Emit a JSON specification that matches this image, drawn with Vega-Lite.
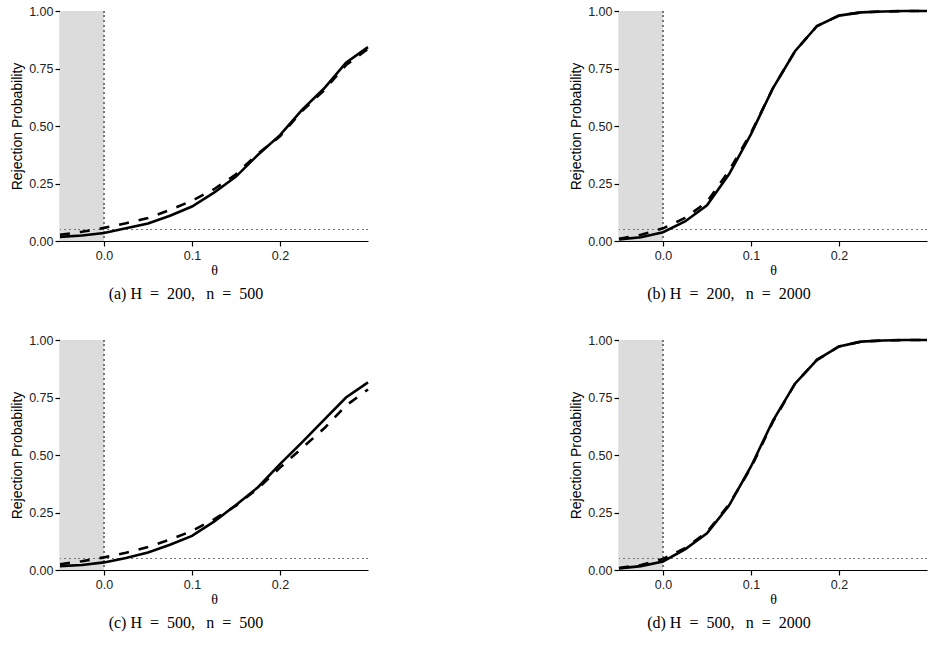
{
  "$schema": "https://vega.github.io/schema/vega-lite/v6.json",
  "padding": {"left": 10, "top": 5, "right": 5, "bottom": 5},
  "background": "white",
  "datasets": {
    "curves": [
      {"p":"a","s":"solid","theta":-0.05,"prob":0.018},{"p":"a","s":"solid","theta":-0.025,"prob":0.024},{"p":"a","s":"solid","theta":0,"prob":0.035},{"p":"a","s":"solid","theta":0.025,"prob":0.055},{"p":"a","s":"solid","theta":0.05,"prob":0.076},{"p":"a","s":"solid","theta":0.075,"prob":0.11},{"p":"a","s":"solid","theta":0.1,"prob":0.15},{"p":"a","s":"solid","theta":0.125,"prob":0.21},{"p":"a","s":"solid","theta":0.15,"prob":0.28},{"p":"a","s":"solid","theta":0.175,"prob":0.375},{"p":"a","s":"solid","theta":0.2,"prob":0.46},{"p":"a","s":"solid","theta":0.225,"prob":0.57},{"p":"a","s":"solid","theta":0.25,"prob":0.663},{"p":"a","s":"solid","theta":0.275,"prob":0.775},{"p":"a","s":"solid","theta":0.3,"prob":0.843},
      {"p":"a","s":"dashed","theta":-0.05,"prob":0.027},{"p":"a","s":"dashed","theta":-0.025,"prob":0.04},{"p":"a","s":"dashed","theta":0,"prob":0.057},{"p":"a","s":"dashed","theta":0.025,"prob":0.077},{"p":"a","s":"dashed","theta":0.05,"prob":0.1},{"p":"a","s":"dashed","theta":0.075,"prob":0.135},{"p":"a","s":"dashed","theta":0.1,"prob":0.175},{"p":"a","s":"dashed","theta":0.125,"prob":0.225},{"p":"a","s":"dashed","theta":0.15,"prob":0.29},{"p":"a","s":"dashed","theta":0.175,"prob":0.38},{"p":"a","s":"dashed","theta":0.2,"prob":0.455},{"p":"a","s":"dashed","theta":0.225,"prob":0.565},{"p":"a","s":"dashed","theta":0.25,"prob":0.655},{"p":"a","s":"dashed","theta":0.275,"prob":0.765},{"p":"a","s":"dashed","theta":0.3,"prob":0.835},
      {"p":"b","s":"solid","theta":-0.05,"prob":0.007},{"p":"b","s":"solid","theta":-0.025,"prob":0.016},{"p":"b","s":"solid","theta":0,"prob":0.038},{"p":"b","s":"solid","theta":0.025,"prob":0.085},{"p":"b","s":"solid","theta":0.05,"prob":0.155},{"p":"b","s":"solid","theta":0.075,"prob":0.29},{"p":"b","s":"solid","theta":0.1,"prob":0.465},{"p":"b","s":"solid","theta":0.125,"prob":0.665},{"p":"b","s":"solid","theta":0.15,"prob":0.825},{"p":"b","s":"solid","theta":0.175,"prob":0.935},{"p":"b","s":"solid","theta":0.2,"prob":0.98},{"p":"b","s":"solid","theta":0.225,"prob":0.994},{"p":"b","s":"solid","theta":0.25,"prob":0.998},{"p":"b","s":"solid","theta":0.275,"prob":1.0},{"p":"b","s":"solid","theta":0.3,"prob":1.0},
      {"p":"b","s":"dashed","theta":-0.05,"prob":0.01},{"p":"b","s":"dashed","theta":-0.025,"prob":0.027},{"p":"b","s":"dashed","theta":0,"prob":0.055},{"p":"b","s":"dashed","theta":0.025,"prob":0.1},{"p":"b","s":"dashed","theta":0.05,"prob":0.17},{"p":"b","s":"dashed","theta":0.075,"prob":0.305},{"p":"b","s":"dashed","theta":0.1,"prob":0.47},{"p":"b","s":"dashed","theta":0.125,"prob":0.665},{"p":"b","s":"dashed","theta":0.15,"prob":0.825},{"p":"b","s":"dashed","theta":0.175,"prob":0.935},{"p":"b","s":"dashed","theta":0.2,"prob":0.98},{"p":"b","s":"dashed","theta":0.225,"prob":0.994},{"p":"b","s":"dashed","theta":0.25,"prob":0.998},{"p":"b","s":"dashed","theta":0.275,"prob":1.0},{"p":"b","s":"dashed","theta":0.3,"prob":1.0},
      {"p":"c","s":"solid","theta":-0.05,"prob":0.017},{"p":"c","s":"solid","theta":-0.025,"prob":0.022},{"p":"c","s":"solid","theta":0,"prob":0.033},{"p":"c","s":"solid","theta":0.025,"prob":0.052},{"p":"c","s":"solid","theta":0.05,"prob":0.076},{"p":"c","s":"solid","theta":0.075,"prob":0.11},{"p":"c","s":"solid","theta":0.1,"prob":0.148},{"p":"c","s":"solid","theta":0.125,"prob":0.21},{"p":"c","s":"solid","theta":0.15,"prob":0.283},{"p":"c","s":"solid","theta":0.175,"prob":0.36},{"p":"c","s":"solid","theta":0.2,"prob":0.46},{"p":"c","s":"solid","theta":0.225,"prob":0.555},{"p":"c","s":"solid","theta":0.25,"prob":0.653},{"p":"c","s":"solid","theta":0.275,"prob":0.75},{"p":"c","s":"solid","theta":0.3,"prob":0.816},
      {"p":"c","s":"dashed","theta":-0.05,"prob":0.025},{"p":"c","s":"dashed","theta":-0.025,"prob":0.038},{"p":"c","s":"dashed","theta":0,"prob":0.055},{"p":"c","s":"dashed","theta":0.025,"prob":0.075},{"p":"c","s":"dashed","theta":0.05,"prob":0.1},{"p":"c","s":"dashed","theta":0.075,"prob":0.132},{"p":"c","s":"dashed","theta":0.1,"prob":0.17},{"p":"c","s":"dashed","theta":0.125,"prob":0.22},{"p":"c","s":"dashed","theta":0.15,"prob":0.28},{"p":"c","s":"dashed","theta":0.175,"prob":0.355},{"p":"c","s":"dashed","theta":0.2,"prob":0.445},{"p":"c","s":"dashed","theta":0.225,"prob":0.53},{"p":"c","s":"dashed","theta":0.25,"prob":0.615},{"p":"c","s":"dashed","theta":0.275,"prob":0.715},{"p":"c","s":"dashed","theta":0.3,"prob":0.785},
      {"p":"d","s":"solid","theta":-0.05,"prob":0.007},{"p":"d","s":"solid","theta":-0.025,"prob":0.017},{"p":"d","s":"solid","theta":0,"prob":0.037},{"p":"d","s":"solid","theta":0.025,"prob":0.09},{"p":"d","s":"solid","theta":0.05,"prob":0.16},{"p":"d","s":"solid","theta":0.075,"prob":0.28},{"p":"d","s":"solid","theta":0.1,"prob":0.45},{"p":"d","s":"solid","theta":0.125,"prob":0.65},{"p":"d","s":"solid","theta":0.15,"prob":0.81},{"p":"d","s":"solid","theta":0.175,"prob":0.914},{"p":"d","s":"solid","theta":0.2,"prob":0.972},{"p":"d","s":"solid","theta":0.225,"prob":0.993},{"p":"d","s":"solid","theta":0.25,"prob":0.998},{"p":"d","s":"solid","theta":0.275,"prob":1.0},{"p":"d","s":"solid","theta":0.3,"prob":1.0},
      {"p":"d","s":"dashed","theta":-0.05,"prob":0.009},{"p":"d","s":"dashed","theta":-0.025,"prob":0.022},{"p":"d","s":"dashed","theta":0,"prob":0.048},{"p":"d","s":"dashed","theta":0.025,"prob":0.095},{"p":"d","s":"dashed","theta":0.05,"prob":0.165},{"p":"d","s":"dashed","theta":0.075,"prob":0.285},{"p":"d","s":"dashed","theta":0.1,"prob":0.445},{"p":"d","s":"dashed","theta":0.125,"prob":0.645},{"p":"d","s":"dashed","theta":0.15,"prob":0.81},{"p":"d","s":"dashed","theta":0.175,"prob":0.914},{"p":"d","s":"dashed","theta":0.2,"prob":0.972},{"p":"d","s":"dashed","theta":0.225,"prob":0.993},{"p":"d","s":"dashed","theta":0.25,"prob":0.998},{"p":"d","s":"dashed","theta":0.275,"prob":1.0},{"p":"d","s":"dashed","theta":0.3,"prob":1.0}
    ]
  },
  "vconcat": [
    {
      "hconcat": [
        {
          "width": 308, "height": 230,
          "title": {"text": "(a) H\u2002=\u2002200,\u2002\u2009n\u2002=\u2002500", "dx": -6},
          "data": {"name": "curves"},
          "transform": [{"filter": "datum.p === 'a'"}],
          "layer": [
            {"mark": {"type": "rect", "fill": "#dcdcdc"}, "encoding": {"x": {"datum": -0.05, "type": "quantitative", "scale": {"domain": [-0.05, 0.3], "nice": false, "zero": false}, "axis": {"title": "θ", "values": [0, 0.1, 0.2], "format": ".1f"}}, "x2": {"datum": 0}, "y": {"datum": 0, "type": "quantitative", "scale": {"domain": [0, 1], "nice": false}, "axis": {"title": "Rejection Probability", "values": [0, 0.25, 0.5, 0.75, 1], "format": ".2f"}}, "y2": {"datum": 1}}},
            {"mark": {"type": "rule", "color": "#777", "strokeDash": [1.2, 3.6], "strokeWidth": 1}, "encoding": {"x": {"datum": 0, "type": "quantitative"}}},
            {"mark": {"type": "rule", "color": "#777", "strokeDash": [1.2, 3.6], "strokeWidth": 1}, "encoding": {"y": {"datum": 0.05, "type": "quantitative"}}},
            {"transform": [{"filter": "datum.s === 'dashed'"}], "mark": {"type": "line", "color": "black", "strokeWidth": 2.6, "strokeDash": [10, 10]}, "encoding": {"x": {"field": "theta", "type": "quantitative"}, "y": {"field": "prob", "type": "quantitative"}}},
            {"transform": [{"filter": "datum.s === 'solid'"}], "mark": {"type": "line", "color": "black", "strokeWidth": 2.6}, "encoding": {"x": {"field": "theta", "type": "quantitative"}, "y": {"field": "prob", "type": "quantitative"}}}
          ]
        },
        {
          "width": 308, "height": 230,
          "title": {"text": "(b) H\u2002=\u2002200,\u2002\u2009n\u2002=\u20022000", "dx": -22},
          "data": {"name": "curves"},
          "transform": [{"filter": "datum.p === 'b'"}],
          "layer": [
            {"mark": {"type": "rect", "fill": "#dcdcdc"}, "encoding": {"x": {"datum": -0.05, "type": "quantitative", "scale": {"domain": [-0.05, 0.3], "nice": false, "zero": false}, "axis": {"title": "θ", "values": [0, 0.1, 0.2], "format": ".1f"}}, "x2": {"datum": 0}, "y": {"datum": 0, "type": "quantitative", "scale": {"domain": [0, 1], "nice": false}, "axis": {"title": "Rejection Probability", "values": [0, 0.25, 0.5, 0.75, 1], "format": ".2f"}}, "y2": {"datum": 1}}},
            {"mark": {"type": "rule", "color": "#777", "strokeDash": [1.2, 3.6], "strokeWidth": 1}, "encoding": {"x": {"datum": 0, "type": "quantitative"}}},
            {"mark": {"type": "rule", "color": "#777", "strokeDash": [1.2, 3.6], "strokeWidth": 1}, "encoding": {"y": {"datum": 0.05, "type": "quantitative"}}},
            {"transform": [{"filter": "datum.s === 'dashed'"}], "mark": {"type": "line", "color": "black", "strokeWidth": 2.6, "strokeDash": [10, 10]}, "encoding": {"x": {"field": "theta", "type": "quantitative"}, "y": {"field": "prob", "type": "quantitative"}}},
            {"transform": [{"filter": "datum.s === 'solid'"}], "mark": {"type": "line", "color": "black", "strokeWidth": 2.6}, "encoding": {"x": {"field": "theta", "type": "quantitative"}, "y": {"field": "prob", "type": "quantitative"}}}
          ]
        }
      ]
    },
    {
      "hconcat": [
        {
          "width": 308, "height": 230,
          "title": {"text": "(c) H\u2002=\u2002500,\u2002\u2009n\u2002=\u2002500", "dx": -6},
          "data": {"name": "curves"},
          "transform": [{"filter": "datum.p === 'c'"}],
          "layer": [
            {"mark": {"type": "rect", "fill": "#dcdcdc"}, "encoding": {"x": {"datum": -0.05, "type": "quantitative", "scale": {"domain": [-0.05, 0.3], "nice": false, "zero": false}, "axis": {"title": "θ", "values": [0, 0.1, 0.2], "format": ".1f"}}, "x2": {"datum": 0}, "y": {"datum": 0, "type": "quantitative", "scale": {"domain": [0, 1], "nice": false}, "axis": {"title": "Rejection Probability", "values": [0, 0.25, 0.5, 0.75, 1], "format": ".2f"}}, "y2": {"datum": 1}}},
            {"mark": {"type": "rule", "color": "#777", "strokeDash": [1.2, 3.6], "strokeWidth": 1}, "encoding": {"x": {"datum": 0, "type": "quantitative"}}},
            {"mark": {"type": "rule", "color": "#777", "strokeDash": [1.2, 3.6], "strokeWidth": 1}, "encoding": {"y": {"datum": 0.05, "type": "quantitative"}}},
            {"transform": [{"filter": "datum.s === 'dashed'"}], "mark": {"type": "line", "color": "black", "strokeWidth": 2.6, "strokeDash": [10, 10]}, "encoding": {"x": {"field": "theta", "type": "quantitative"}, "y": {"field": "prob", "type": "quantitative"}}},
            {"transform": [{"filter": "datum.s === 'solid'"}], "mark": {"type": "line", "color": "black", "strokeWidth": 2.6}, "encoding": {"x": {"field": "theta", "type": "quantitative"}, "y": {"field": "prob", "type": "quantitative"}}}
          ]
        },
        {
          "width": 308, "height": 230,
          "title": {"text": "(d) H\u2002=\u2002500,\u2002\u2009n\u2002=\u20022000", "dx": -22},
          "data": {"name": "curves"},
          "transform": [{"filter": "datum.p === 'd'"}],
          "layer": [
            {"mark": {"type": "rect", "fill": "#dcdcdc"}, "encoding": {"x": {"datum": -0.05, "type": "quantitative", "scale": {"domain": [-0.05, 0.3], "nice": false, "zero": false}, "axis": {"title": "θ", "values": [0, 0.1, 0.2], "format": ".1f"}}, "x2": {"datum": 0}, "y": {"datum": 0, "type": "quantitative", "scale": {"domain": [0, 1], "nice": false}, "axis": {"title": "Rejection Probability", "values": [0, 0.25, 0.5, 0.75, 1], "format": ".2f"}}, "y2": {"datum": 1}}},
            {"mark": {"type": "rule", "color": "#777", "strokeDash": [1.2, 3.6], "strokeWidth": 1}, "encoding": {"x": {"datum": 0, "type": "quantitative"}}},
            {"mark": {"type": "rule", "color": "#777", "strokeDash": [1.2, 3.6], "strokeWidth": 1}, "encoding": {"y": {"datum": 0.05, "type": "quantitative"}}},
            {"transform": [{"filter": "datum.s === 'dashed'"}], "mark": {"type": "line", "color": "black", "strokeWidth": 2.6, "strokeDash": [10, 10]}, "encoding": {"x": {"field": "theta", "type": "quantitative"}, "y": {"field": "prob", "type": "quantitative"}}},
            {"transform": [{"filter": "datum.s === 'solid'"}], "mark": {"type": "line", "color": "black", "strokeWidth": 2.6}, "encoding": {"x": {"field": "theta", "type": "quantitative"}, "y": {"field": "prob", "type": "quantitative"}}}
          ]
        }
      ]
    }
  ],
  "spacing": 32,
  "config": {
    "view": {"stroke": null},
    "concat": {"spacing": 195},
    "axis": {"grid": false, "domainColor": "black", "domainWidth": 1.2, "tickColor": "black", "tickWidth": 1.2, "tickSize": 5, "labelFont": "Liberation Sans", "labelFontSize": 12.5, "labelColor": "#222222", "labelPadding": 2, "titleFont": "Liberation Sans", "titleFontSize": 14, "titleFontWeight": "normal", "titleColor": "black"},
    "axisX": {"titleFont": "Liberation Serif", "titlePadding": 2, "labelPadding": 3},
    "axisY": {"titlePadding": 4},
    "title": {"orient": "bottom", "frame": "bounds", "anchor": "middle", "font": "Liberation Serif", "fontSize": 16, "fontWeight": "normal", "color": "black", "offset": 8}
  }
}
